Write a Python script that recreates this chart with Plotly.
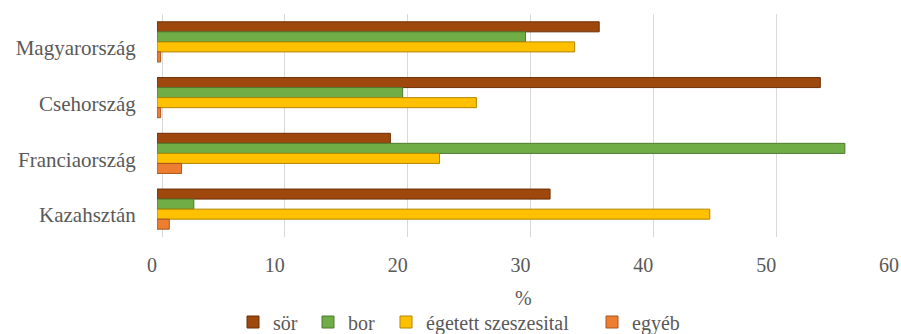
import plotly.graph_objects as go

countries = ["Magyarország", "Csehország", "Franciaország", "Kazahsztán"]
series_names = ["sör", "bor", "égetett szeszesital", "egyéb"]
sor = [36, 54, 19, 32]
bor = [30, 20, 56, 3]
egetett = [34, 26, 23, 45]
egyeb = [0.3, 0.3, 2, 1]
colors = ["#9E480E", "#70AD47", "#FFC000", "#ED7D31"]
edge_colors = ["#6B2F08", "#4E7A30", "#B38600", "#A8561F"]
tick_vals = [0, 10, 20, 30, 40, 50, 60]
x_title = "%"

values = [sor, bor, egetett, egyeb]
legend_ids = ["legend", "legend2", "legend3", "legend4"]
legend_px = [233, 308, 386, 592]   # left pixel of each legend entry

W, H = 901, 334
L, R, T, B = 157, 7, 14, 97
PW, PH = W - L - R, H - T - B
grid_shift = 5 / 12.28  # back-plane gridline offset of the 3D original

FAM = "Liberation Serif"
grey = "#595959"

def f(size):
    return dict(family=FAM, size=size, color=grey)

fig = go.Figure()
# invisible trace to carry the gridline axis
fig.add_trace(go.Scatter(x=[0], y=[countries[0]], mode="markers",
                         marker=dict(opacity=0), showlegend=False,
                         hoverinfo="skip", xaxis="x", yaxis="y"))
for name, vals, c, ec, lg in zip(series_names, values, colors, edge_colors, legend_ids):
    fig.add_trace(go.Bar(
        y=countries, x=vals, name=name, orientation="h",
        marker=dict(color=c, line=dict(color=ec, width=1)),
        xaxis="x2", yaxis="y", legend=lg,
    ))

layout = dict(
    width=W, height=H,
    margin=dict(l=L, r=R, t=T, b=B, autoexpand=False),
    barmode="group", bargap=0.28, bargroupgap=0,
    plot_bgcolor="white", paper_bgcolor="white",
    font=f(20),
    xaxis=dict(range=[-grid_shift, 60 - grid_shift], tickvals=tick_vals,
               showgrid=True, gridcolor="#d9d9d9", gridwidth=1, automargin=False,
               zeroline=False, showticklabels=False, ticks=""),
    xaxis2=dict(range=[0, 60], tickvals=tick_vals, overlaying="x", side="bottom",
                anchor="y", showgrid=False, zeroline=False, automargin=False,
                ticks="outside", ticklen=10, tickcolor="rgba(0,0,0,0)",
                ticklabelshift=-5, tickfont=f(20)),
    yaxis=dict(autorange="reversed", showgrid=False, zeroline=False, automargin=False,
               ticks="outside", ticklen=16, tickcolor="rgba(0,0,0,0)",
               ticklabelshift=-6, tickfont=f(21)),
    annotations=[dict(text=x_title, xref="paper", yref="paper",
                      x=(523 - L) / PW, y=-(298 - (T + PH)) / PH,
                      xanchor="center", yanchor="middle", showarrow=False,
                      font=f(20))],
)
for lg, px in zip(legend_ids, legend_px):
    layout[lg] = dict(orientation="h", xref="container", yref="container",
                      x=px / W, xanchor="left", y=(H - 322) / H, yanchor="middle",
                      font=f(20), itemwidth=30, bgcolor="rgba(0,0,0,0)")
fig.update_layout(**layout)

fig.write_html("out.html")
